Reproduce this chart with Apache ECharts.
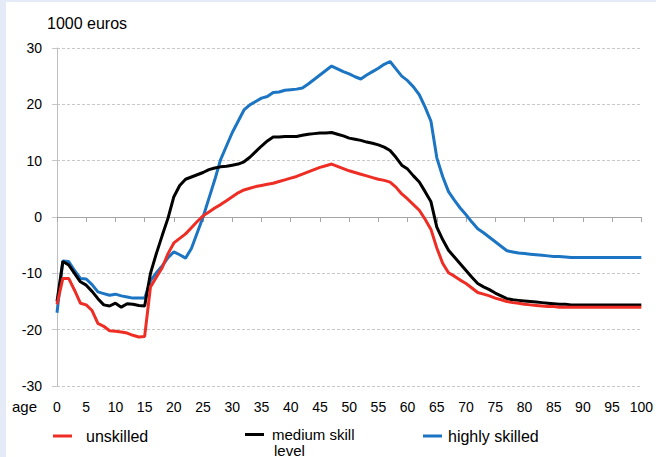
<!DOCTYPE html>
<html>
<head>
<meta charset="utf-8">
<script src="https://cdn.jsdelivr.net/npm/echarts@6/dist/echarts.min.js"></script>
<style>
    html, body {
        margin: 0;
        padding: 0;
        background: #e4eaf6;
    }
    #chart {
        position: absolute;
        left: 6px;
        top: 2px;
        width: 650px;
        height: 455px;
        background: #ffffff;
    }
</style>
</head>
<body>
<div id="chart"></div>
<script>
// ages 0..100
const ages = [
    0, 1, 2, 3, 4, 5, 6, 7, 8, 9, 10, 11, 12, 13, 14, 15, 16, 17, 18, 19, 20,
    21, 22, 23, 24, 25, 26, 27, 28, 29, 30, 31, 32, 33, 34, 35, 36, 37, 38, 39, 40,
    41, 42, 43, 44, 45, 46, 47, 48, 49, 50, 51, 52, 53, 54, 55, 56, 57, 58, 59, 60,
    61, 62, 63, 64, 65, 66, 67, 68, 69, 70, 71, 72, 73, 74, 75, 76, 77, 78, 79, 80,
    81, 82, 83, 84, 85, 86, 87, 88, 89, 90, 91, 92, 93, 94, 95, 96, 97, 98, 99, 100,
];

// 1000 euros, one value per age
const unskilled = [
    -15.5, -10.9, -10.9, -13.0, -15.3, -15.6, -16.6, -18.9, -19.4, -20.2,
    -20.3, -20.4, -20.6, -21.0, -21.3, -21.2, -12.4, -10.7, -9.0, -6.5,
    -4.6, -3.8, -3.0, -1.9, -0.8, 0.2, 0.9, 1.6, 2.2, 2.9,
    3.6, 4.3, 4.8, 5.1, 5.4, 5.6, 5.8, 6.0, 6.3, 6.6,
    6.9, 7.2, 7.6, 8.0, 8.4, 8.8, 9.1, 9.4, 9.0, 8.6,
    8.2, 7.9, 7.6, 7.3, 7.0, 6.7, 6.5, 6.2, 5.3, 4.1,
    3.2, 2.2, 1.2, -0.4, -2.2, -5.5, -8.2, -9.9, -10.5, -11.2,
    -11.8, -12.6, -13.4, -13.7, -14.0, -14.4, -14.7, -15.0, -15.2, -15.3,
    -15.5, -15.6, -15.7, -15.8, -15.9, -15.9, -16.0, -16.0, -16.0, -16.0,
    -16.0, -16.0, -16.0, -16.0, -16.0, -16.0, -16.0, -16.0, -16.0, -16.0,
    -16.0,
];

const mediumSkill = [
    -15.0, -7.9, -8.5, -10.0, -11.5, -12.1, -13.2, -14.5, -15.6, -15.8,
    -15.3, -16.0, -15.4, -15.5, -15.7, -15.8, -10.0, -6.5, -3.3, -0.2,
    3.6, 5.6, 6.7, 7.1, 7.5, 7.9, 8.4, 8.7, 8.9, 9.0,
    9.2, 9.4, 9.8, 10.6, 11.6, 12.6, 13.5, 14.2, 14.2, 14.3,
    14.3, 14.3, 14.5, 14.7, 14.8, 14.9, 14.9, 15.0, 14.7, 14.4,
    14.0, 13.8, 13.6, 13.3, 13.1, 12.8, 12.4, 11.8, 10.6, 9.2,
    8.5, 7.3, 6.2, 4.5, 2.7, -1.8, -4.0, -5.9, -7.1, -8.3,
    -9.5, -10.7, -11.8, -12.4, -12.9, -13.5, -14.0, -14.5, -14.7, -14.8,
    -14.9, -15.0, -15.1, -15.2, -15.3, -15.4, -15.5, -15.5, -15.6, -15.6,
    -15.6, -15.6, -15.6, -15.6, -15.6, -15.6, -15.6, -15.6, -15.6, -15.6,
    -15.6,
];

const highlySkilled = [
    -17.0, -7.8, -7.9, -9.5, -10.9, -11.0, -12.0, -13.3, -13.6, -13.9,
    -13.7, -14.0, -14.2, -14.4, -14.4, -14.4, -11.3, -9.9, -8.7, -7.2,
    -6.2, -6.7, -7.3, -5.6, -2.8, 0.0, 3.3, 6.6, 10.2, 12.6,
    15.0, 17.0, 19.0, 19.9, 20.5, 21.1, 21.4, 22.1, 22.2, 22.5,
    22.6, 22.7, 22.9, 23.6, 24.4, 25.2, 26.0, 26.8, 26.3, 25.8,
    25.4, 24.9, 24.5, 25.2, 25.8, 26.4, 27.1, 27.6, 26.3, 25.0,
    24.2, 23.1, 21.7, 19.5, 17.0, 10.5, 7.2, 4.5, 3.0, 1.6,
    0.4, -0.9, -2.1, -2.8, -3.6, -4.4, -5.2, -6.0, -6.2, -6.4,
    -6.5, -6.6, -6.7, -6.8, -6.9, -7.0, -7.0, -7.1, -7.2, -7.2,
    -7.2, -7.2, -7.2, -7.2, -7.2, -7.2, -7.2, -7.2, -7.2, -7.2,
    -7.2,
];

const seriesNames = ["unskilled", "medium skill level", "highly skilled"];
const seriesColors = ["#ee2e24", "#000000", "#1b75c2"];
const seriesValues = [unskilled, mediumSkill, highlySkilled];

const FONT = "Liberation Sans, Arial, sans-serif";

const chart = echarts.init(document.getElementById("chart"), null, {
    renderer: "svg",
});

// one legend per item so each sits where the reference has it;
// the medium entry shows its first line, "level" is wrapped below it
const legendLefts = [42, 234, 412];
const legendTops = [421, 420, 421];
const legendFontSizes = [16, 15, 16];
const legendPads = [
    [0, 0, 0, 9],
    [0, 0, 0, 3],
    [0, 0, 0, 1],
];

const options = {
    animation: false,
    title: {
        text: "1000 euros",
        left: 36,
        top: 8,
        textStyle: {
            fontFamily: FONT,
            fontSize: 16,
            fontWeight: "normal",
            color: "#000",
        },
    },
    legend: seriesNames.map((name, i) => ({
        data: [name],
        left: legendLefts[i],
        top: legendTops[i],
        icon: "rect",
        itemWidth: 19,
        itemHeight: 3,
        selectedMode: false,
        formatter: (n) => (n === "medium skill level" ? "medium skill" : n),
        textStyle: {
            fontFamily: FONT,
            fontSize: legendFontSizes[i],
            color: "#000",
            lineHeight: 13,
            padding: legendPads[i],
        },
    })),
    grid: {
        left: 51,
        right: 13,
        top: 46,
        bottom: 71,
    },
    graphic: [
        {
            type: "text",
            left: 6,
            top: 397,
            style: {
                text: "age",
                font: "15px " + FONT,
                fill: "#000",
            },
        },
        {
            type: "text",
            left: 268,
            top: 440.5,
            style: {
                text: "level",
                font: "15px " + FONT,
                lineHeight: 13,
                fill: "#000",
            },
        },
    ],
    xAxis: [
        {
            // axis line at zero with ticks
            type: "value",
            min: 0,
            max: 100,
            interval: 5,
            axisLine: {
                onZero: true,
                lineStyle: { color: "#a6a6a6", width: 1 },
            },
            axisTick: {
                show: true,
                length: 5,
                lineStyle: { color: "#a6a6a6" },
            },
            axisLabel: { show: false },
            splitLine: { show: false },
        },
        {
            // labels along the bottom
            type: "value",
            position: "bottom",
            min: 0,
            max: 100,
            interval: 5,
            axisLine: { show: false, onZero: false },
            axisTick: { show: false },
            splitLine: { show: false },
            axisLabel: {
                margin: 14,
                fontFamily: FONT,
                fontSize: 14,
                color: "#000",
            },
        },
    ],
    yAxis: {
        type: "value",
        min: -30,
        max: 30,
        interval: 10,
        axisLine: {
            show: true,
            onZero: false,
            lineStyle: { color: "#bfbfbf" },
        },
        axisTick: {
            show: true,
            length: 5,
            lineStyle: { color: "#c8c8c8" },
        },
        axisLabel: {
            margin: 15,
            fontFamily: FONT,
            fontSize: 14,
            color: "#000",
        },
        splitLine: {
            show: true,
            lineStyle: { color: "#c8c8c8", type: [3, 2] },
        },
    },
    series: seriesNames.map((name, i) => ({
        name: name,
        type: "line",
        xAxisIndex: 0,
        data: ages.map((a, k) => [a, seriesValues[i][k]]),
        showSymbol: false,
        lineStyle: { color: seriesColors[i], width: 3 },
        itemStyle: { color: seriesColors[i] },
        z: 3 - i,
    })),
};

chart.setOption(options);
</script>
</body>
</html>
